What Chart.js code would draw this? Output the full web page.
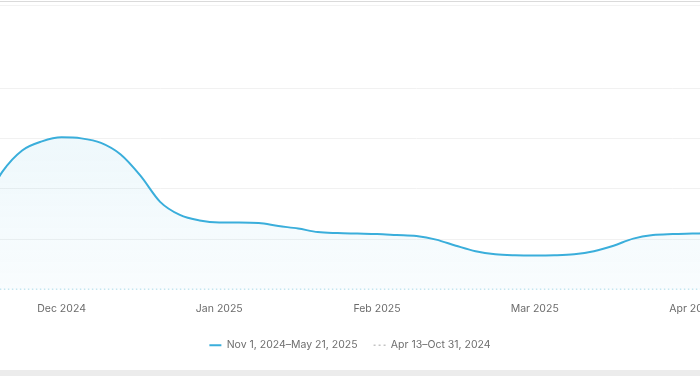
<!DOCTYPE html>
<html>
<head>
<meta charset="utf-8">
<script src="https://cdn.jsdelivr.net/npm/chart.js@4.4.1/dist/chart.umd.min.js"></script>
<style>
  html, body { margin: 0; padding: 0; background: #fff; }
  #page { position: relative; width: 700px; height: 376px; overflow: hidden; background: #fff; }
  .rule1 { position: absolute; left: 0; top: 1px; width: 700px; height: 1px; background: #dadada; }
  .rule2 { position: absolute; left: 0; top: 5px; width: 700px; height: 1px; background: #f2f2f2; }
  .foot { position: absolute; left: 0; top: 370px; width: 700px; height: 6px; background: #ececec; }
  #wrap { position: absolute; left: -242px; top: 0; width: 1184px; height: 370px; }
</style>
</head>
<body>
<div id="page">
  <div class="rule1"></div>
  <div class="rule2"></div>
  <div id="wrap"><canvas id="trendChart"></canvas></div>
  <div class="foot"></div>
</div>
<script>
// sample dates, Nov 1 2024 .. May 2025
const periods = [
  'Nov 1', 'Nov 5', 'Nov 9', 'Nov 13', 'Nov 16', 'Nov 20', 'Nov 24', 'Nov 28',
  'Dec 1', 'Dec 5', 'Dec 9', 'Dec 13', 'Dec 16', 'Dec 20', 'Dec 24', 'Dec 28',
  'Jan 1', 'Jan 5', 'Jan 9', 'Jan 13', 'Jan 16', 'Jan 20', 'Jan 24', 'Jan 28',
  'Feb 1', 'Feb 5', 'Feb 9', 'Feb 13', 'Feb 16', 'Feb 20', 'Feb 24', 'Feb 28',
  'Mar 1', 'Mar 5', 'Mar 9', 'Mar 13', 'Mar 16', 'Mar 20', 'Mar 24', 'Mar 28',
  'Apr 1', 'Apr 5', 'Apr 9', 'Apr 13', 'Apr 16', 'Apr 20', 'Apr 24', 'Apr 28',
  'May 1', 'May 5', 'May 9', 'May 13', 'May 16'];
const monthTicks = ['Nov 2024', 'Dec 2024', 'Jan 2025', 'Feb 2025', 'Mar 2025', 'Apr 2025', 'May 2025'];

const currentValues = [
  132, 144, 172, 224, 332, 468, 552, 588,
  604, 600, 582, 536, 452, 348, 296, 274,
  266, 266, 264, 252, 242, 228, 224, 222,
  220, 216, 212, 198, 174, 152, 140, 136,
  135, 136, 140, 152, 174, 202, 216, 220,
  222, 224, 224, 224, 222, 220, 220, 218,
  216, 216, 214, 212, 212];
const previousValues = [
  0, 0, 0, 0, 0, 0, 0, 0, 0, 0, 0, 0, 0, 0, 0, 0, 0, 0,
  0, 0, 0, 0, 0, 0, 0, 0, 0, 0, 0, 0, 0, 0, 0, 0, 0, 0,
  0, 0, 0, 0, 0, 0, 0, 0, 0, 0, 0, 0, 0, 0, 0, 0, 0];

const yTicks = [0, 200, 400, 600, 800];

const ctx = document.getElementById('trendChart').getContext('2d');

const trendChart = new Chart(ctx, {
    type: 'line',
    data: {
        labels: periods,
        datasets: [{
            label: 'Nov 1, 2024\u2013May 21, 2025',
            data: currentValues,
            borderColor: '#3aaedb',
            borderWidth: 2,
            cubicInterpolationMode: 'monotone',
            pointRadius: 0,
            fill: 'origin',
            backgroundColor: function(c) {
                const area = c.chart.chartArea;
                if (!area) return 'rgba(58,174,219,0.06)';
                const g = c.chart.ctx.createLinearGradient(0, area.top, 0, area.bottom);
                g.addColorStop(0, 'rgba(58,174,219,0.10)');
                g.addColorStop(1, 'rgba(58,174,219,0.03)');
                return g;
            }
        },
        {
            label: 'Apr 13\u2013Oct 31, 2024',
            data: previousValues,
            borderColor: '#8ccbdf',
            borderWidth: 1.4,
            borderDash: [1.5, 2.5],
            pointRadius: 0,
            fill: false
        }]
    },
    options: {
        responsive: true,
        maintainAspectRatio: false,
        animation: false,
        layout: { padding: { top: 88, bottom: 9.5 } },
        plugins: {
            tooltip: { enabled: false },
            legend: {
                position: 'bottom',
                labels: {
                    usePointStyle: true,
                    pointStyle: 'line',
                    pointStyleWidth: 12,
                    padding: 16,
                    color: '#6e6e6e',
                    font: { family: 'Inter', size: 10.5 },
                    generateLabels: function(chart) {
                        const items = Chart.defaults.plugins.legend.labels.generateLabels(chart);
                        items.forEach(function(it, i) {
                            it.pointStyle = 'line';
                            if (i === 1) {
                                it.strokeStyle = '#c4c4c4';
                                it.lineDash = [2, 3];
                                it.lineWidth = 1.5;
                            }
                        });
                        return items;
                    }
                }
            }
        },
        scales: {
            x: {
                grid: { display: false, drawTicks: false },
                border: { display: false },
                ticks: {
                    autoSkip: false,
                    maxRotation: 0,
                    padding: 13,
                    color: '#6b6b6b',
                    font: { family: 'Inter', size: 10.5 },
                    callback: function(v, i) {
                        return i % 8 === 0 ? monthTicks[i / 8] : '';
                    }
                },
                afterFit: function(scale) { scale.height = 34.5; }
            },
            y: {
                min: 0,
                max: 800,
                afterBuildTicks: function(scale) {
                    scale.ticks = yTicks.map(function(v) { return { value: v }; });
                },
                grid: {
                    drawTicks: false,
                    color: function(c) { return c.tick.value === 0 ? 'rgba(0,0,0,0)' : '#f1f1f1'; }
                },
                border: { display: false },
                ticks: { display: false },
                afterFit: function(scale) { scale.width = 145.85; }
            }
        }
    }
});
</script>
</body>
</html>
